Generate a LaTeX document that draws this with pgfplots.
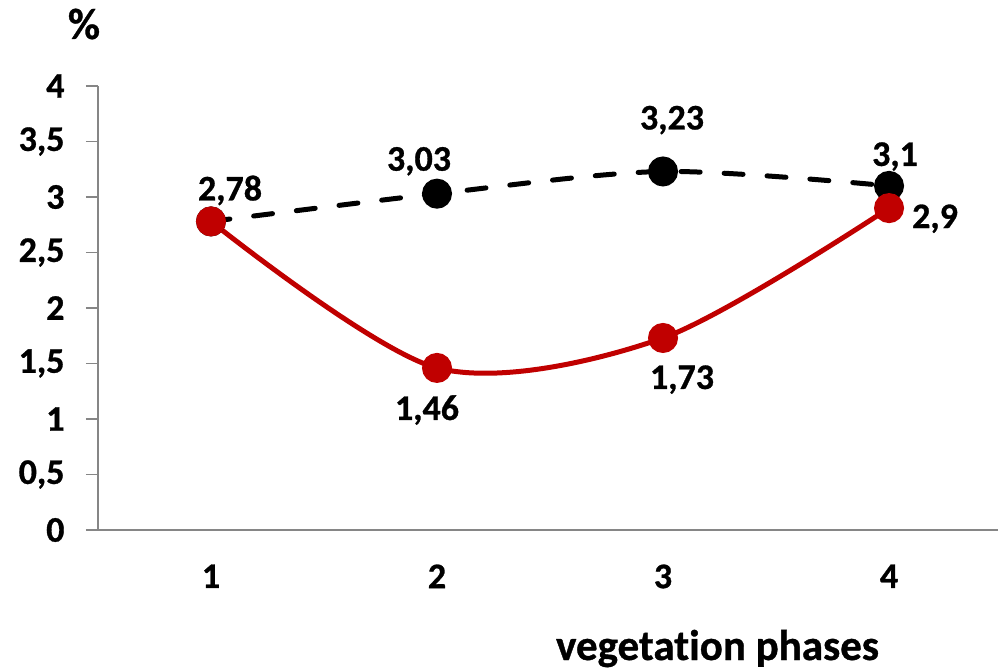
\documentclass[border=0pt]{standalone}
\usepackage{pgfplots}
\pgfplotsset{compat=1.18}
\usepackage{fontspec}
\setmainfont{Carlito}[Ligatures=NoCommon, BoldFeatures={FakeBold=0.8}]
\definecolor{dred}{HTML}{C00000}
\definecolor{axgray}{HTML}{868686}
\begin{document}
\begin{tikzpicture}[font=\bfseries\fontsize{36}{38}\selectfont]
\useasboundingbox (0,0) rectangle (998pt,670pt);
\begin{axis}[
  at={(98pt,140pt)}, anchor=south west,
  scale only axis, width=899.5pt, height=444pt,
  xmin=0.5, xmax=4.48, ymin=0, ymax=4,
  axis x line*=bottom, axis y line*=left,
  axis line style={axgray, line width=1.5pt},
  xtick={1,2,3,4},
  minor xtick={0.5,1.5,2.5,3.5,4.5},
  ytick={0,0.5,...,4},
  tick align=outside,
  major tick length=12pt, minor tick length=12pt,
  every tick/.style={axgray, line width=1.5pt},
  xtick style={draw=none},
  /pgf/number format/assume math mode=true,
  /pgf/number format/use comma,
  tick label style={font=\bfseries\fontsize{36}{38}\selectfont, black},
  yticklabel style={xshift=-18pt},
  xticklabel style={yshift=-19pt},
  clip=false,
]
\addplot[black, line width=5pt, smooth, dash pattern=on 19pt off 24pt, line cap=round,
  mark=*, mark size=12.5pt, mark options={solid, fill=black, draw=none}]
  coordinates {(1,2.78) (2,3.03) (3,3.23) (4,3.1)};
\addplot[dred, line width=5pt, smooth,
  mark=*, mark size=12.5pt, mark options={fill=dred, draw=none}]
  coordinates {(1,2.78) (2,1.46) (3,1.73) (4,2.9)};
\begin{scope}[every node/.style={anchor=base, inner sep=0pt}]
\node[xshift=19pt, yshift=21pt] at (axis cs:1,2.78) {2,78};
\node[xshift=-18pt, yshift=23pt] at (axis cs:2,3.03) {3,03};
\node[xshift=9pt, yshift=42pt] at (axis cs:3,3.23) {3,23};
\node[xshift=6pt, yshift=20pt] at (axis cs:4,3.1) {3,1};
\node[xshift=46pt, yshift=-20pt] at (axis cs:4,2.9) {2,9};
\node[xshift=-10pt, yshift=-52pt] at (axis cs:2,1.46) {1,46};
\node[xshift=19pt, yshift=-51pt] at (axis cs:3,1.73) {1,73};
\end{scope}
\end{axis}
\node[anchor=base, inner sep=0pt, font=\bfseries\fontsize{43}{45}\selectfont] at (717.5pt,10pt) {vegetation phases};
\node[anchor=base, inner sep=0pt, font=\bfseries\fontsize{44}{46}\selectfont] at (84pt,631pt) {\%};
\end{tikzpicture}
\end{document}
